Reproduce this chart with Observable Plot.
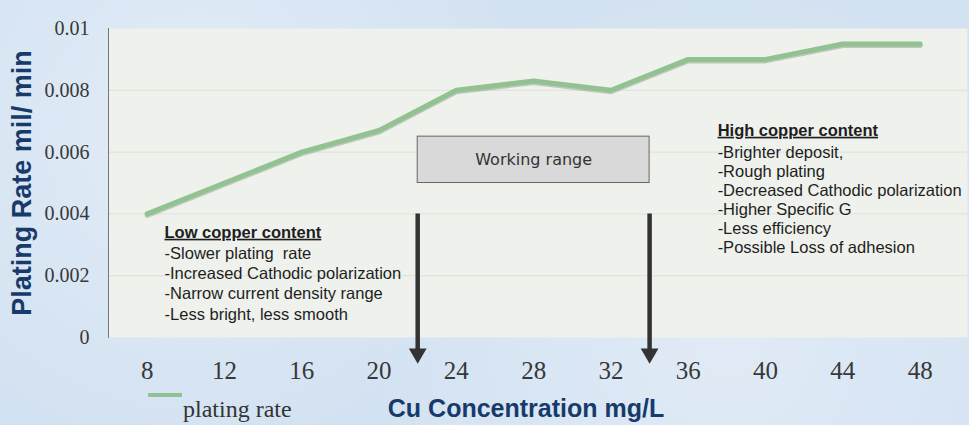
<!DOCTYPE html>
<html>
<head>
<meta charset="utf-8">
<script src="https://cdn.jsdelivr.net/npm/d3@7"></script>
<script src="https://cdn.jsdelivr.net/npm/@observablehq/plot@0.6"></script>
<style>
  html, body { margin: 0; padding: 0; background: #d4e3f2; }
  #wrap { position: relative; width: 969px; height: 425px; overflow: hidden;
    background:
      radial-gradient(circle at 20% 30%, rgba(255,255,255,0.35) 0, rgba(255,255,255,0) 40%),
      radial-gradient(circle at 75% 80%, rgba(255,255,255,0.3) 0, rgba(255,255,255,0) 45%),
      #d3e2f2; }
  .hdr text { text-decoration: underline; }
  #legend-swatch { position: absolute; left: 148px; top: 393px; width: 34px; height: 4px; background: #92c291; }
  #legend-label { position: absolute; left: 183px; top: 397px; font: 24px/24px "Liberation Serif", "Times New Roman", serif; color: #333; white-space: nowrap; }
</style>
</head>
<body>
<div id="wrap">
  <div id="chart"></div>
  <div id="legend-swatch"></div>
  <div id="legend-label">plating rate</div>
</div>
<script>
const concentration = [8, 12, 16, 20, 24, 28, 32, 36, 40, 44, 48];
const platingRate = [0.004, 0.005, 0.006, 0.0067, 0.008, 0.0083, 0.008, 0.009, 0.009, 0.0095, 0.0095];
const xTicks = [8, 12, 16, 20, 24, 28, 32, 36, 40, 44, 48];
const yTicks = [0, 0.002, 0.004, 0.006, 0.008, 0.01];
const yTitle = "Plating Rate mil/ min";
const xTitle = "Cu Concentration mg/L";
const lowHeader = "Low copper content";
const lowLines = ["-Slower plating  rate", "-Increased Cathodic polarization", "-Narrow current density range", "-Less bright, less smooth"];
const highHeader = "High copper content";
const highLines = ["-Brighter deposit,", "-Rough plating", "-Decreased Cathodic polarization", "-Higher Specific G", "-Less efficiency", "-Possible Loss of adhesion"];
const workingRange = {label: "Working range", from: 22, to: 34, low: 0.005, high: 0.0065};
const arrowTop = 0.004;

const data = concentration.map((c, i) => ({c, r: platingRate[i]}));
const sans = "'Liberation Sans', Arial, sans-serif";

const chart = Plot.plot({
  width: 969,
  height: 425,
  marginLeft: 108,
  marginRight: 2,
  marginTop: 28,
  marginBottom: 88,
  style: {background: "transparent", fontFamily: "'Liberation Serif', 'Times New Roman', serif", color: "#333"},
  x: {domain: [6, 50.45]},
  y: {domain: [0, 0.01]},
  marks: [
    Plot.frame({fill: "#eef1ec", stroke: null}),
    Plot.gridY(yTicks.slice(1, -1), {stroke: "#dde1d9", strokeOpacity: 1}),
    Plot.frame({anchor: "left", stroke: "#777"}),
    Plot.axisY({ticks: yTicks, tickSize: 0, tickPadding: 19, fontSize: 20, label: null, tickFormat: d => String(+d.toFixed(3)), fill: "#383838"}),
    Plot.axisX({ticks: xTicks, tickSize: 0, tickPadding: 24, fontSize: 25, label: null, fill: "#383838"}),
    Plot.line(data, {x: "c", y: "r", stroke: "#5e7d5f", strokeOpacity: 0.35, strokeWidth: 5, dy: 1.5, strokeLinejoin: "round", strokeLinecap: "round"}),
    Plot.line(data, {x: "c", y: "r", stroke: "#92c291", strokeWidth: 5, strokeLinejoin: "round", strokeLinecap: "round"}),
    Plot.rect([workingRange], {x1: "from", x2: "to", y1: "low", y2: "high", fill: "#d9d9d9", stroke: "#666", strokeWidth: 1}),
    Plot.text([workingRange], {x: d => (d.from + d.to) / 2, y: d => (d.low + d.high) / 2, text: "label", fontFamily: "'DejaVu Sans', Verdana, sans-serif", fontSize: 16, fill: "#333"}),
    Plot.ruleX([workingRange.from, workingRange.to], {x: d => d, y1: arrowTop, y2: -0.0004, stroke: "#333", strokeWidth: 4.5}),
    Plot.dot([workingRange.from, workingRange.to], {x: d => d, y: -0.00052, symbol: "triangle", r: 6.6, rotate: 180, fill: "#333", stroke: null}),
    Plot.text([lowHeader], {x: 8.9, y: 0.0034, text: d => d, textAnchor: "start", fontFamily: sans, fontWeight: "bold", fontSize: 16.5, fill: "#1e1e1e", className: "hdr"}),
    Plot.text([lowLines.join("\n")], {x: 8.9, y: 0.00301, text: d => d, textAnchor: "start", lineAnchor: "top", lineHeight: 1.23, fontFamily: sans, fontSize: 16.5, fill: "#1e1e1e"}),
    Plot.text([highHeader], {x: 37.52, y: 0.0067, text: d => d, textAnchor: "start", fontFamily: sans, fontWeight: "bold", fontSize: 16.5, fill: "#1e1e1e", className: "hdr"}),
    Plot.text([highLines.join("\n")], {x: 37.52, y: 0.00625, text: d => d, textAnchor: "start", lineAnchor: "top", lineHeight: 1.15, fontFamily: sans, fontSize: 16.5, fill: "#1e1e1e"}),
    Plot.text([yTitle], {frameAnchor: "left", text: d => d, rotate: -90, dx: -86, textAnchor: "middle", lineAnchor: "middle", fontFamily: sans, fontWeight: "bold", fontSize: 27, fill: "#173a6b"}),
    Plot.text([xTitle], {frameAnchor: "bottom", text: d => d, dx: -12, dy: 71, textAnchor: "middle", lineAnchor: "middle", fontFamily: sans, fontWeight: "bold", fontSize: 25, fill: "#173a6b"})
  ]
});
document.getElementById("chart").appendChild(chart);
</script>
</body>
</html>
